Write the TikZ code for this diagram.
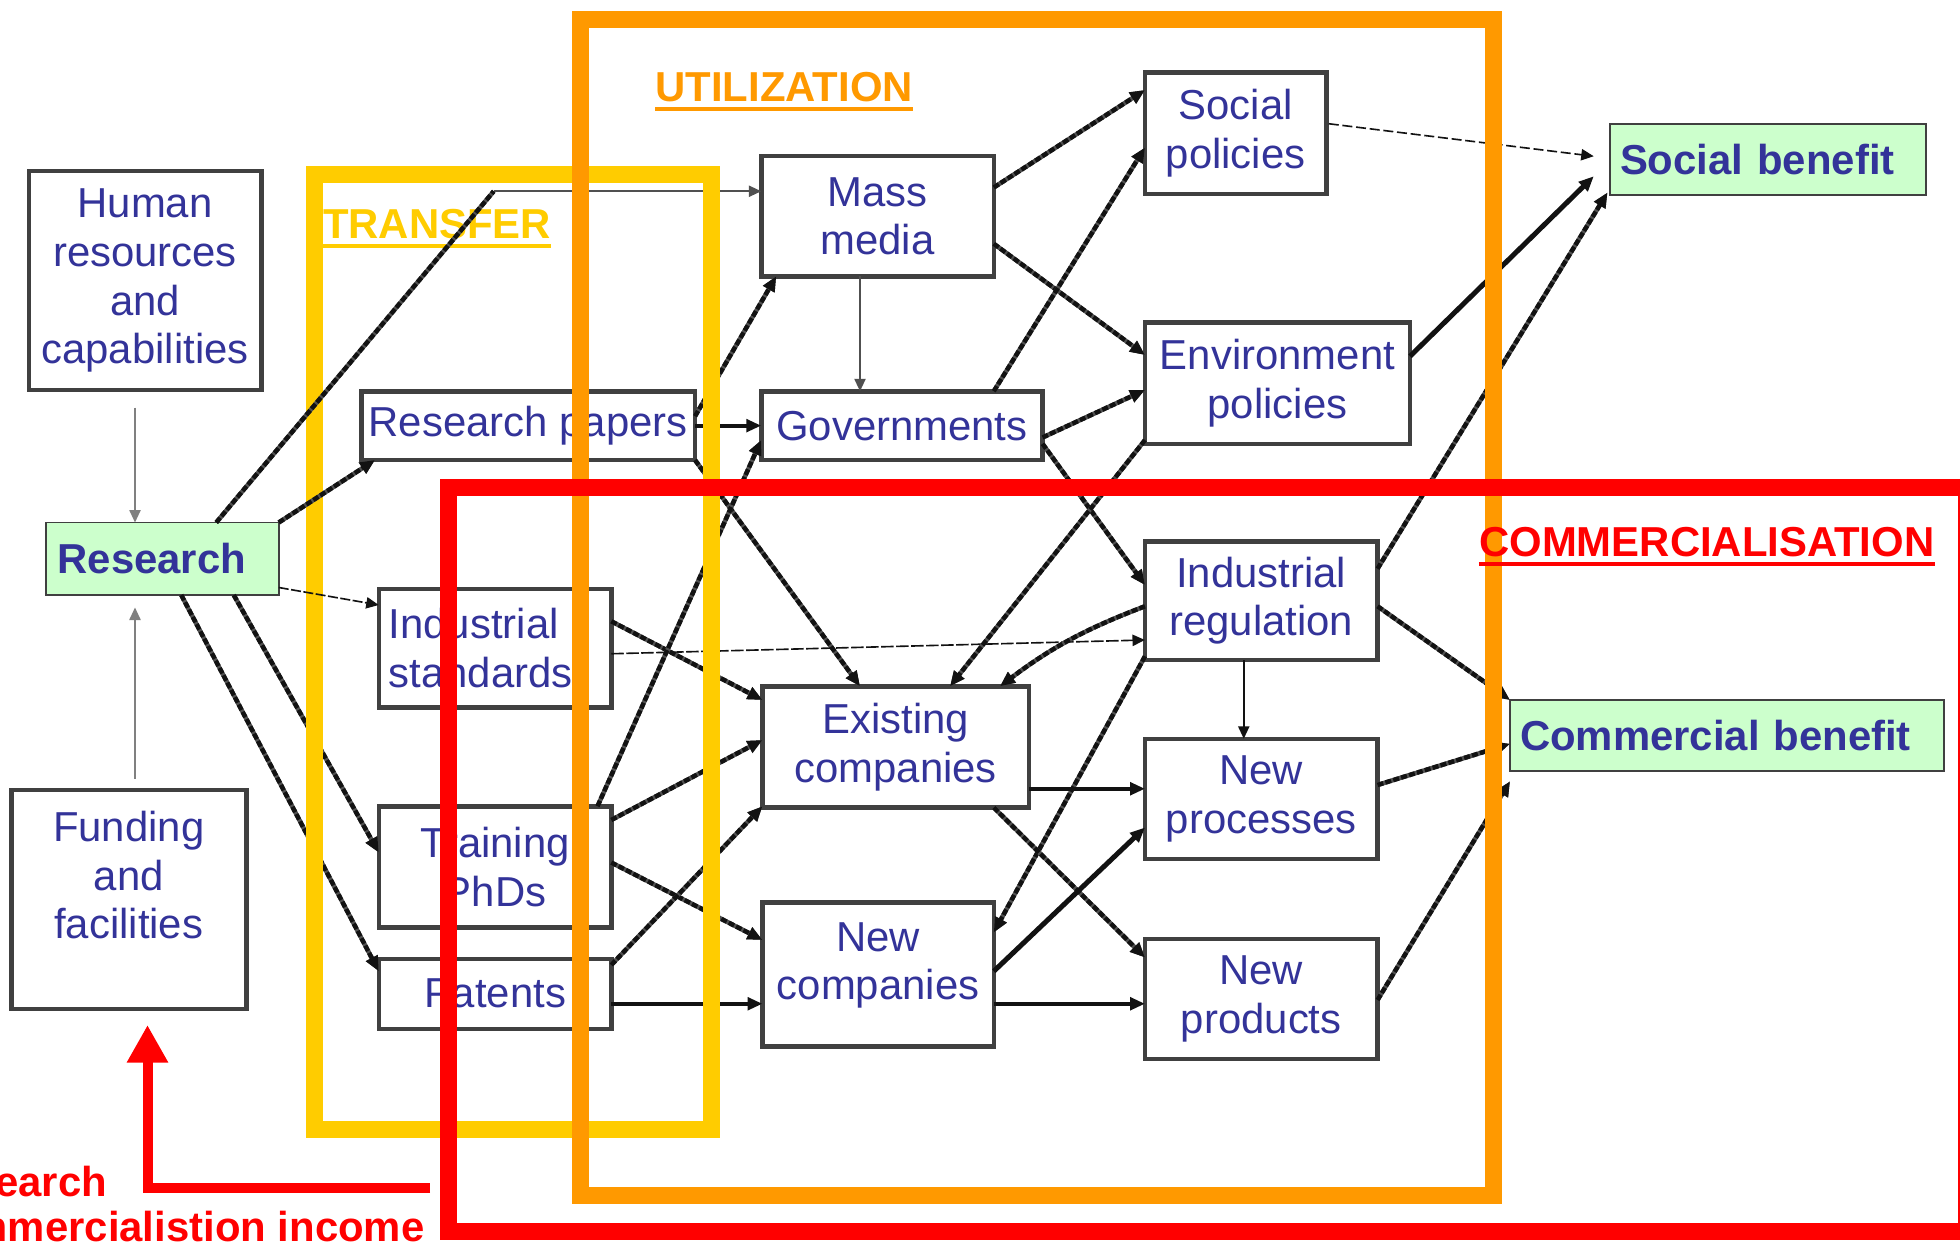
\documentclass[tikz,border=0pt]{standalone}
\usepackage{fontspec}
\setmainfont{Liberation Sans}
\usetikzlibrary{arrows.meta,calc}
\definecolor{ink}{HTML}{333399}
\definecolor{frameY}{HTML}{FFCC00}
\definecolor{frameO}{HTML}{FF9900}
\definecolor{frameR}{HTML}{FF0000}
\definecolor{boxline}{HTML}{404040}
\definecolor{benefit}{HTML}{CCFFCC}
\definecolor{linkgray}{HTML}{505050}
\definecolor{linkdark}{HTML}{121212}

\begin{document}
\begin{tikzpicture}[x=0.5pt,y=-0.5pt,
  txt/.style={font=\fontsize{16.75}{19.5}\selectfont, text=ink},
  box/.style={txt, draw=boxline, line width=1.8pt, fill=white, inner sep=0pt, outer sep=0pt, align=center},
  gbox/.style={box, font=\fontsize{16.75}{19.5}\selectfont\bfseries, line width=0.7pt, fill=benefit},
  span/.style n args={4}{at={({(#1+#3)/2},{(#2+#4)/2})},
    minimum width={(#3-#1)*0.5pt}, minimum height={(#4-#2)*0.5pt}},
  tip/.style={-{Triangle[length=6pt,width=5pt]}},
  link/.style={tip, draw=linkdark, line width=1.8pt, dash pattern=on 2.4pt off 0.9pt,
    preaction={draw=linkgray, line width=1.8pt, solid}},
  solidlink/.style={tip, draw=linkdark, line width=1.5pt},
  fine/.style={-{Triangle[length=5pt,width=4.5pt]}, draw=linkdark, line width=0.65pt},
  frame/.style={line width=6.75pt, line join=miter},
  tag/.style={font=\fontsize{16.75}{19.5}\selectfont\bfseries, inner sep=0pt, anchor=base west},
]
\fill[white] (0,0) rectangle (1568,995);
\clip (0,0) rectangle (1568,995);

% boxes
\node[box, span={23}{137}{209}{312}] (hr) {Human\\resources\\and\\capabilities};
\node[gbox, span={37}{418}{223}{476}, text width=84pt, align=left] (res) {Research};
\node[box, span={9}{632}{197}{807}] (fund) {Funding\\and\\facilities\\\mbox{}};
\node[box, span={289}{313}{556}{368}] (pap) {Research papers};
\node[box, span={303}{471}{489}{566}, text width=85pt, align=left] (std) {Industrial\\standards};
\node[box, span={303}{645}{489}{742}] (phd) {Training\\PhDs};
\node[box, span={303}{767}{489}{823}] (pat) {Patents};
\node[box, span={609}{125}{795}{221}] (mm) {Mass\\media};
\node[box, span={609}{313}{834}{368}] (gov) {Governments};
\node[box, span={610}{549}{823}{646}] (ex) {Existing\\companies};
\node[box, span={610}{722}{795}{837}] (nc) {New\\companies\\[-1ex]\mbox{}};
\node[box, span={916}{58}{1061}{155}] (sp) {Social\\policies};
\node[box, span={916}{258}{1128}{355}] (ep) {Environment\\policies};
\node[box, span={916}{433}{1102}{528}] (ir) {Industrial\\regulation};
\node[box, span={916}{591}{1102}{687}] (npr) {New\\processes};
\node[box, span={916}{751}{1102}{847}] (npd) {New\\products};
\node[gbox, span={1288}{99}{1541}{156}, text width=118.5pt, align=left] (sb) {Social benefit};
\node[gbox, span={1208}{560}{1555}{617}, text width=165.5pt, align=left] (cb) {Commercial benefit};

% stage titles
\node[tag, text=frameY] (ttransfer) at (258,191) {TRANSFER};
\draw[frameY, line width=1.5pt] ($(ttransfer.base west)+(0,6)$) -- ($(ttransfer.base east)+(0,6)$);
\node[tag, text=frameO] (tutil) at (524,81) {UTILIZATION};
\draw[frameO, line width=1.5pt] ($(tutil.base west)+(0,6)$) -- ($(tutil.base east)+(0,6)$);

% inputs to research, and outputs passing under the frames
\draw[fine, draw=gray] ($(hr.south)+(-8,14)$) -- ($(res.north west)+(71,0)$);
\draw[fine, draw=gray] ($(fund.north west)+(99,-9)$) -- ($(res.south west)+(71,10)$);
\coordinate (kink) at (395,153);
\draw[fine, draw=linkgray] (kink) -- ($(mm.north west)+(0,28)$);
\draw[link] ($(res.south west)+(150,0)$) -- ($(phd.north west)+(0,37)$);
\draw[link] ($(res.south west)+(108,0)$) -- ($(pat.north west)+(0,10)$);

% transfer channels
\draw[solidlink] (pap.east) -- (gov.west);
\draw[link] ($(pap.north east)+(0,20)$) -- ($(mm.south west)+(12,0)$);
\draw[link] (pap.south east) -- ($(ex.north west)+(78,0)$);
\draw[fine, dash pattern=on 5pt off 1pt] ($(std.north east)+(0,52)$) -- ($(ir.north west)+(0,79)$);
\draw[link] ($(std.north east)+(0,26)$) -- ($(ex.north west)+(0,11)$);
\draw[link] ($(phd.north west)+(175,0)$) -- ($(gov.north west)+(0,39)$);
\draw[link] ($(phd.north east)+(0,11)$) -- ($(ex.north west)+(0,43)$);
\draw[link] ($(phd.north east)+(0,45)$) -- ($(nc.north west)+(0,30)$);
\draw[link] ($(pat.north east)+(0,5)$) -- ($(ex.south west)+(0,-1)$);
\draw[solidlink] ($(pat.north east)+(0,36)$) -- ($(nc.north west)+(0,81)$);

% utilization
\draw[fine, draw=linkgray] ($(mm.south west)+(79,0)$) -- ($(gov.north west)+(79,0)$);
\draw[link] ($(mm.north east)+(0,25)$) -- ($(sp.north west)+(0,14)$);
\draw[link] ($(mm.north east)+(0,70)$) -- ($(ep.north west)+(0,26)$);
\draw[link] ($(gov.north west)+(186,0)$) -- ($(sp.north west)+(0,60)$);
\draw[link] ($(gov.north east)+(0,37)$) -- ($(ep.north west)+(0,54)$);
\draw[link] ($(gov.north east)+(0,42)$) -- ($(ir.north west)+(0,35)$);
\draw[link] ($(ep.south west)+(0,-3)$) -- ($(ex.north west)+(150,0)$);
\draw[link] ($(ir.north west)+(0,52)$) to[bend right=8] ($(ex.north west)+(190,0)$);
\draw[link] ($(ir.south west)+(0,-3)$) -- ($(nc.north east)+(0,24)$);

% commercialisation
\draw[solidlink] ($(ex.south east)+(0,-15)$) -- ($(npr.north west)+(0,40)$);
\draw[link] ($(ex.south west)+(185,0)$) -- ($(npd.north west)+(0,15)$);
\draw[solidlink, line width=2pt] ($(nc.north east)+(0,55)$) -- ($(npr.north west)+(0,71)$);
\draw[solidlink] ($(nc.north east)+(0,81)$) -- ($(npd.north west)+(0,52)$);
\draw[fine] ($(ir.south west)+(79,0)$) -- ($(npr.north west)+(79,0)$);

% benefits
\draw[fine, dash pattern=on 4pt off 1.5pt] ($(sp.north east)+(2,41)$) -- ($(sb.north west)+(-13,26)$);
\draw[solidlink, line width=2pt] ($(ep.north east)+(0,27)$) -- ($(sb.north west)+(-13,42)$);
\draw[link] ($(ir.north east)+(0,22)$) -- ($(sb.south west)+(-2,-2)$);
\draw[link] ($(ir.north east)+(0,52)$) -- (cb.north west);
\draw[link] ($(npr.north east)+(0,37)$) -- ($(cb.north west)+(0,35)$);
\draw[link] ($(npd.north east)+(0,49)$) -- ($(cb.south west)+(0,8)$);

% stage frames
\draw[frameY, frame] (251.5,139.5) rectangle (569,903.5);
\draw[frameO, frame] (464.5,15.5) rectangle (1194.5,956.5);
\draw[frameR, frame] (359,390) rectangle (1573,985);
\node[tag, text=frameR] (tcomm) at (1183,445) {COMMERCIALISATION};
\draw[frameR, line width=1.5pt] ($(tcomm.base west)+(0,6)$) -- ($(tcomm.base east)+(0,6)$);

% research outputs drawn across the transfer frame
\draw[link, -] ($(res.north west)+(136,0)$) -- (kink);
\draw[link] (res.north east) -- ($(pap.south west)+(11,0)$);
\draw[fine, dash pattern=on 4pt off 1pt] ($(res.south east)+(0,-6)$) -- ($(std.north west)+(0,13)$);

% income fed back into funding
\node[tag, text=frameR, anchor=base east] (inc1) at (86,957) {Research};
\node[tag, text=frameR, anchor=base east] (inc2) at (340,993) {Commercialistion income};
\coordinate (income) at (344,950);
\draw[frameR, line width=4pt, line join=miter, -{Triangle[length=15pt,width=15.5pt]}]
  (income) -- (118,950) -- ($(fund.south west)+(109,13)$);
\end{tikzpicture}
\end{document}
